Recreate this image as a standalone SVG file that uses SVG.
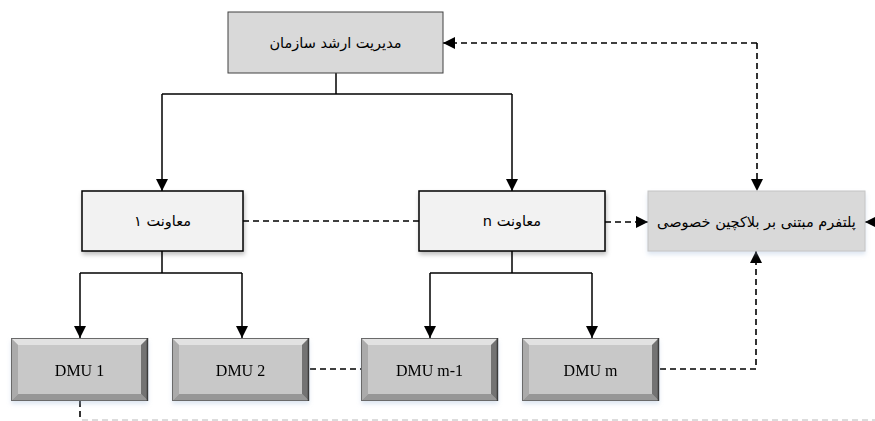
<svg xmlns="http://www.w3.org/2000/svg" xmlns:xlink="http://www.w3.org/1999/xlink" width="875" height="421" viewBox="0 0 875 421">
<style>
  .lbl { font-family: "Liberation Serif", "DejaVu Sans", serif; font-size: 16px; fill: #000; text-anchor: middle; dominant-baseline: central; }
  .fa { font-family: "DejaVu Sans", "Liberation Serif", serif; font-size: 14.5px; fill: #000; text-anchor: middle; dominant-baseline: central; }
  .solid { fill: none; stroke: #000; stroke-width: 1.5; }
  .dash { fill: none; stroke: #000; stroke-width: 1.6; stroke-dasharray: 6 4; }
  .gdash { fill: none; stroke: #b8b8b8; stroke-width: 1; stroke-dasharray: 6 4; }
</style>
<defs>
  <marker id="arr" viewBox="0 0 12 12" refX="12" refY="6" markerWidth="12" markerHeight="12" markerUnits="userSpaceOnUse" orient="auto">
    <path d="M0,0 L12,6 L0,12 z" fill="#000"/>
  </marker>
  <filter id="sh" x="-10%" y="-10%" width="130%" height="140%">
    <feDropShadow dx="1" dy="3" stdDeviation="2" flood-color="#000" flood-opacity="0.25"/>
  </filter>
  <filter id="glow" x="-10%" y="-10%" width="130%" height="140%">
    <feDropShadow dx="0" dy="3" stdDeviation="2" flood-color="#9fb8d8" flood-opacity="0.35"/>
  </filter>
  <g id="dmu">
    <rect x="0" y="0" width="137" height="63" fill="#c8c8c8"/>
    <path d="M0,0 L137,0 L130,7 L7,7 z" fill="#e2e2e2"/>
    <path d="M0,0 L7,7 L7,56 L0,63 z" fill="#ababab"/>
    <path d="M0,63 L7,56 L130,56 L137,63 z" fill="#979797"/>
    <path d="M137,0 L137,63 L130,56 L130,7 z" fill="#737373"/>
    <rect x="0.5" y="0.5" width="136" height="62" fill="none" stroke="#6a6a6a" stroke-width="1"/>
    <line x1="136.5" y1="0" x2="136.5" y2="63" stroke="#3a3a3a" stroke-width="1.5"/>
  </g>
</defs>
<rect x="0" y="0" width="875" height="421" fill="#fff"/>

<g id="connectors">
  <path class="solid" d="M336,73 V94"/>
  <path class="solid" d="M162,94 H512"/>
  <path class="solid" d="M162,94 V191" marker-end="url(#arr)"/>
  <path class="solid" d="M512,94 V191" marker-end="url(#arr)"/>
  <path class="solid" d="M162,251 V273"/>
  <path class="solid" d="M80,273 H242"/>
  <path class="solid" d="M80,273 V338" marker-end="url(#arr)"/>
  <path class="solid" d="M242,273 V338" marker-end="url(#arr)"/>
  <path class="solid" d="M512,251 V273"/>
  <path class="solid" d="M430,273 H592"/>
  <path class="solid" d="M430,273 V338" marker-end="url(#arr)"/>
  <path class="solid" d="M592,273 V338" marker-end="url(#arr)"/>
  <path class="dash" d="M243,221 H420"/>
  <path class="dash" d="M605,222 H648" marker-end="url(#arr)"/>
  <path class="dash" d="M310,369 H361"/>
  <path class="dash" d="M660,369 H756 V251" marker-end="url(#arr)"/>
  <path class="dash" d="M757,43 H443" marker-end="url(#arr)"/>
  <path class="dash" d="M757,43 V191" marker-end="url(#arr)"/>
  <path class="dash" d="M877,222 H865" marker-end="url(#arr)"/>
  <path class="dash" d="M80,401 V420"/>
  <path class="gdash" d="M82,420 H875"/>
</g>

<g id="top">
  <rect x="228" y="12" width="215" height="61" fill="#d9d9d9" stroke="#404040" stroke-width="1"/>
  <text class="fa" x="335.5" y="43" direction="rtl">مدیریت ارشد سازمان</text>
</g>

<g id="deputy1">
  <rect x="82" y="191" width="161" height="60" fill="#f2f2f2" stroke="#000" stroke-width="1.5" filter="url(#sh)"/>
  <text class="fa" x="162.5" y="221" direction="rtl">معاونت ۱</text>
</g>

<g id="deputyn">
  <rect x="419" y="191" width="186" height="60" fill="#f2f2f2" stroke="#000" stroke-width="1.5" filter="url(#sh)"/>
  <text class="fa" x="512" y="221" direction="rtl">معاونت n</text>
</g>

<g id="platform">
  <rect x="648" y="191" width="217" height="60" fill="#d9d9d9" stroke="#c4c4c4" stroke-width="1" filter="url(#glow)"/>
  <text class="fa" x="756.5" y="222" direction="rtl">پلتفرم مبتنی بر بلاکچین خصوصی</text>
</g>

<g id="dmu1" filter="url(#glow)">
  <use xlink:href="#dmu" x="11" y="338"/>
  <text class="lbl" x="79.5" y="370">DMU 1</text>
</g>
<g id="dmu2" filter="url(#glow)">
  <use xlink:href="#dmu" x="172" y="338"/>
  <text class="lbl" x="240.5" y="370">DMU 2</text>
</g>
<g id="dmum1" filter="url(#glow)">
  <use xlink:href="#dmu" x="361" y="338"/>
  <text class="lbl" x="429.5" y="370">DMU m-1</text>
</g>
<g id="dmum" filter="url(#glow)">
  <use xlink:href="#dmu" x="522" y="338"/>
  <text class="lbl" x="590.5" y="370">DMU m</text>
</g>
</svg>
